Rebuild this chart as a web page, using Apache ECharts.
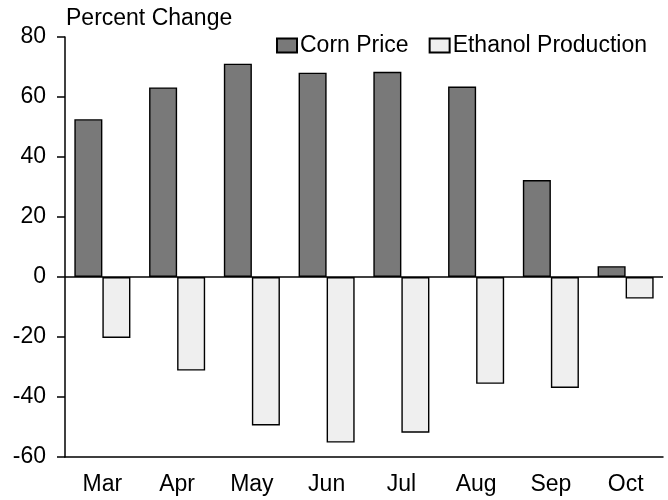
<!DOCTYPE html>
<html>
<head>
<meta charset="utf-8">
<script src="https://cdn.jsdelivr.net/npm/echarts@6/dist/echarts.min.js"></script>
<style>
  html, body { margin: 0; padding: 0; background: #fff; }
  #chart { width: 668px; height: 500px; }
</style>
</head>
<body>
<div id="chart"></div>
<script>
var months = ['Mar', 'Apr', 'May', 'Jun', 'Jul', 'Aug', 'Sep', 'Oct']
var cornPrice = [52.6, 63.2, 71.1, 68.1, 68.4, 63.5, 32.3, 3.6]
var ethanolProduction = [-20.3, -31.2, -49.5, -55.2, -51.9, -35.6, -37.0, -7.2]
var yTicks = { min: -60, max: 80, step: 20 }

var font = 'Liberation Sans, Arial, sans-serif'
var chart = echarts.init(document.getElementById('chart'))

var option = {
  backgroundColor: '#fff',
  animation: false,
  title: {
    text: 'Percent Change',
    left: 66,
    top: 7,
    padding: 0,
    textStyle: { color: '#000', fontSize: 23, fontWeight: 'normal', fontFamily: font }
  },
  legend: {
    left: 276,
    top: 34,
    padding: 0,
    icon: 'rect',
    itemWidth: 20,
    itemHeight: 14,
    itemGap: 20,
    textStyle: { color: '#000', fontSize: 23, fontFamily: font, padding: [0, 0, 0, -2] },
    data: ['Corn Price', 'Ethanol Production']
  },
  grid: {
    left: 65,
    right: 5,
    top: 37,
    bottom: 43
  },
  xAxis: {
    type: 'category',
    data: months,
    axisLine: { onZero: false, lineStyle: { color: '#000', width: 1.5 } },
    axisTick: { alignWithLabel: true, length: 8, lineStyle: { color: '#000', width: 1.5 } },
    axisLabel: { color: '#000', fontSize: 23, fontFamily: font, margin: 16 },
    splitLine: { show: false }
  },
  yAxis: {
    type: 'value',
    min: yTicks.min,
    max: yTicks.max,
    interval: yTicks.step,
    axisLine: { show: true, lineStyle: { color: '#000', width: 1.5 } },
    axisTick: { show: true, length: 8, lineStyle: { color: '#000', width: 1.5 } },
    axisLabel: { color: '#000', fontSize: 23, fontFamily: font, margin: 19 },
    splitLine: { show: false }
  },
  series: [
    {
      name: 'Corn Price',
      type: 'bar',
      data: cornPrice,
      barGap: '0%',
      barCategoryGap: '25%',
      itemStyle: { color: '#797979', borderColor: '#000', borderWidth: 1.4 },
      markLine: {
        silent: true,
        symbol: 'none',
        label: { show: false },
        lineStyle: { color: '#000', type: 'solid', width: 1.5 },
        data: [{ yAxis: 0 }]
      }
    },
    {
      name: 'Ethanol Production',
      type: 'bar',
      data: ethanolProduction,
      itemStyle: { color: '#efefef', borderColor: '#000', borderWidth: 1.4 }
    }
  ]
}
chart.setOption(option)
</script>
</body>
</html>
